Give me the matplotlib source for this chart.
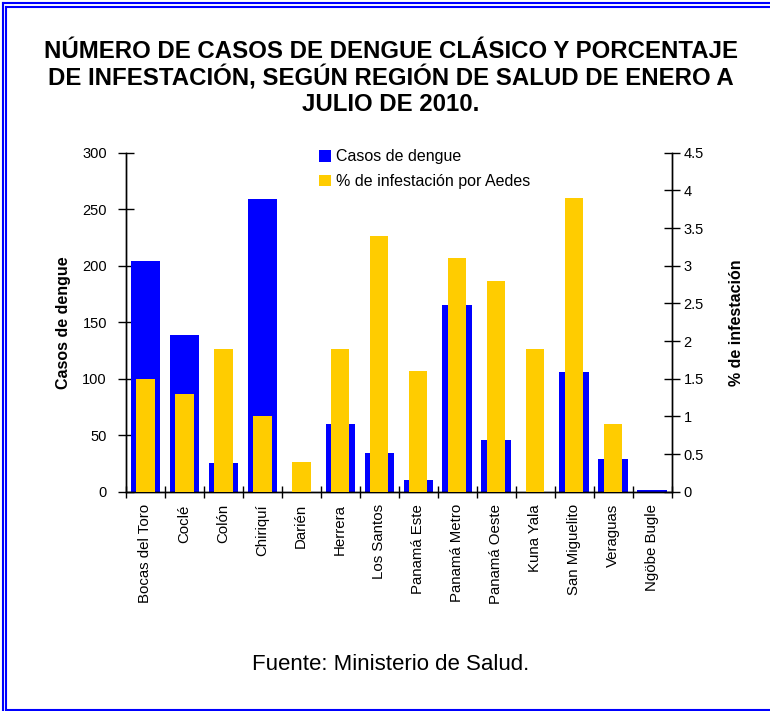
import numpy as np
import matplotlib
matplotlib.use("Agg")
import matplotlib.pyplot as plt
from matplotlib.patches import Patch
from matplotlib.lines import Line2D

regiones = ["Bocas del Toro", "Coclé", "Colón", "Chiriquí", "Darién", "Herrera",
            "Los Santos", "Panamá Este", "Panamá Metro", "Panamá Oeste", "Kuna Yala",
            "San Miguelito", "Veraguas", "Ngöbe Bugle"]
casos = [204, 139, 25, 259, 0, 60, 34, 10, 165, 46, 0, 106, 29, 1.5]
infestacion = [1.5, 1.3, 1.9, 1.0, 0.4, 1.9, 3.4, 1.6, 3.1, 2.8, 1.9, 3.9, 0.9, 0.0]
left_ticks = [0, 50, 100, 150, 200, 250, 300]
right_ticks = [0, 0.5, 1, 1.5, 2, 2.5, 3, 3.5, 4, 4.5]

BLUE = "#0000FF"
YELLOW = "#FFCC00"
plt.rcParams['font.family'] = ['Liberation Sans', 'DejaVu Sans']

fig = plt.figure(figsize=(7.7, 7.11), dpi=100)
ax = fig.add_axes([0.1632, 0.3084, 0.709, 0.4768])
ax2 = ax.twinx()

x = np.arange(len(regiones))
ax.bar(x, casos, width=0.75, color=BLUE, zorder=2)
ax2.bar(x, infestacion, width=0.48, color=YELLOW, zorder=3)

ax.set_xlim(-0.5, len(regiones) - 0.5)
ax.set_ylim(0, 300)
ax2.set_ylim(0, 4.5)
ax.set_yticks(left_ticks)
ax.set_yticklabels([str(t) for t in left_ticks], fontsize=10.5)
ax2.set_yticks(right_ticks)
ax2.set_yticklabels([f"{t:g}" for t in right_ticks], fontsize=10.5)

ax.set_xticks(np.arange(len(regiones) + 1) - 0.5)
ax.set_xticklabels([])
ax.set_xticks(x, minor=True)
ax.set_xticklabels(regiones, minor=True, rotation=90, fontsize=10.8)
ax.tick_params(axis='x', which='major', direction='inout', length=8, width=1)
ax.tick_params(axis='x', which='minor', length=0, pad=9)
ax.tick_params(axis='y', direction='inout', length=11, width=1, pad=8)
ax2.tick_params(axis='y', direction='inout', length=11, width=1, pad=3)

for a in (ax, ax2):
    a.spines['top'].set_visible(False)
    for s in ('left', 'right', 'bottom'):
        a.spines[s].set_linewidth(1)
ax.set_facecolor('none')

ax.set_ylabel("Casos de dengue", fontsize=11.5, fontweight='bold', labelpad=8)
ax2.set_ylabel("% de infestación", fontsize=11.5, fontweight='bold', labelpad=18, rotation=90)

handles = [Patch(facecolor=BLUE, edgecolor='none'), Patch(facecolor=YELLOW, edgecolor='none')]
fig.legend(handles, ["Casos de dengue", "% de infestación por Aedes"],
           loc='upper left', bbox_to_anchor=(313 / 770, 1 - 143 / 711),
           frameon=False, fontsize=11.5, handlelength=0.75, handleheight=0.75,
           handletextpad=0.3, labelspacing=0.6, borderaxespad=0)

title = ("NÚMERO DE CASOS DE DENGUE CLÁSICO Y PORCENTAJE\n"
         "DE INFESTACIÓN, SEGÚN REGIÓN DE SALUD DE ENERO A\n"
         "JULIO DE 2010.")
fig.text(391 / 770, 1 - 78 / 711, title, ha='center', va='center', fontsize=17.3,
         fontweight='bold', linespacing=1.12)
fig.text(391 / 770, 1 - 665 / 711, "Fuente: Ministerio de Salud.", ha='center', va='center',
         fontsize=16)

# double blue border
W, H = 770, 711
def fx(px): return px / W
def fy(py): return 1 - py / H
for (x0, y0, x1, y1) in [(2.5, 2.5, 770, 2.5), (6.5, 6.5, 770, 6.5),
                         (2.5, 2.5, 2.5, 711), (6.5, 6.5, 6.5, 709.5),
                         (6.5, 709.5, 770, 709.5)]:
    fig.add_artist(Line2D([fx(x0), fx(x1)], [fy(y0), fy(y1)], color=BLUE, lw=1.5,
                          transform=fig.transFigure))

fig.savefig("out.png", dpi=100)
